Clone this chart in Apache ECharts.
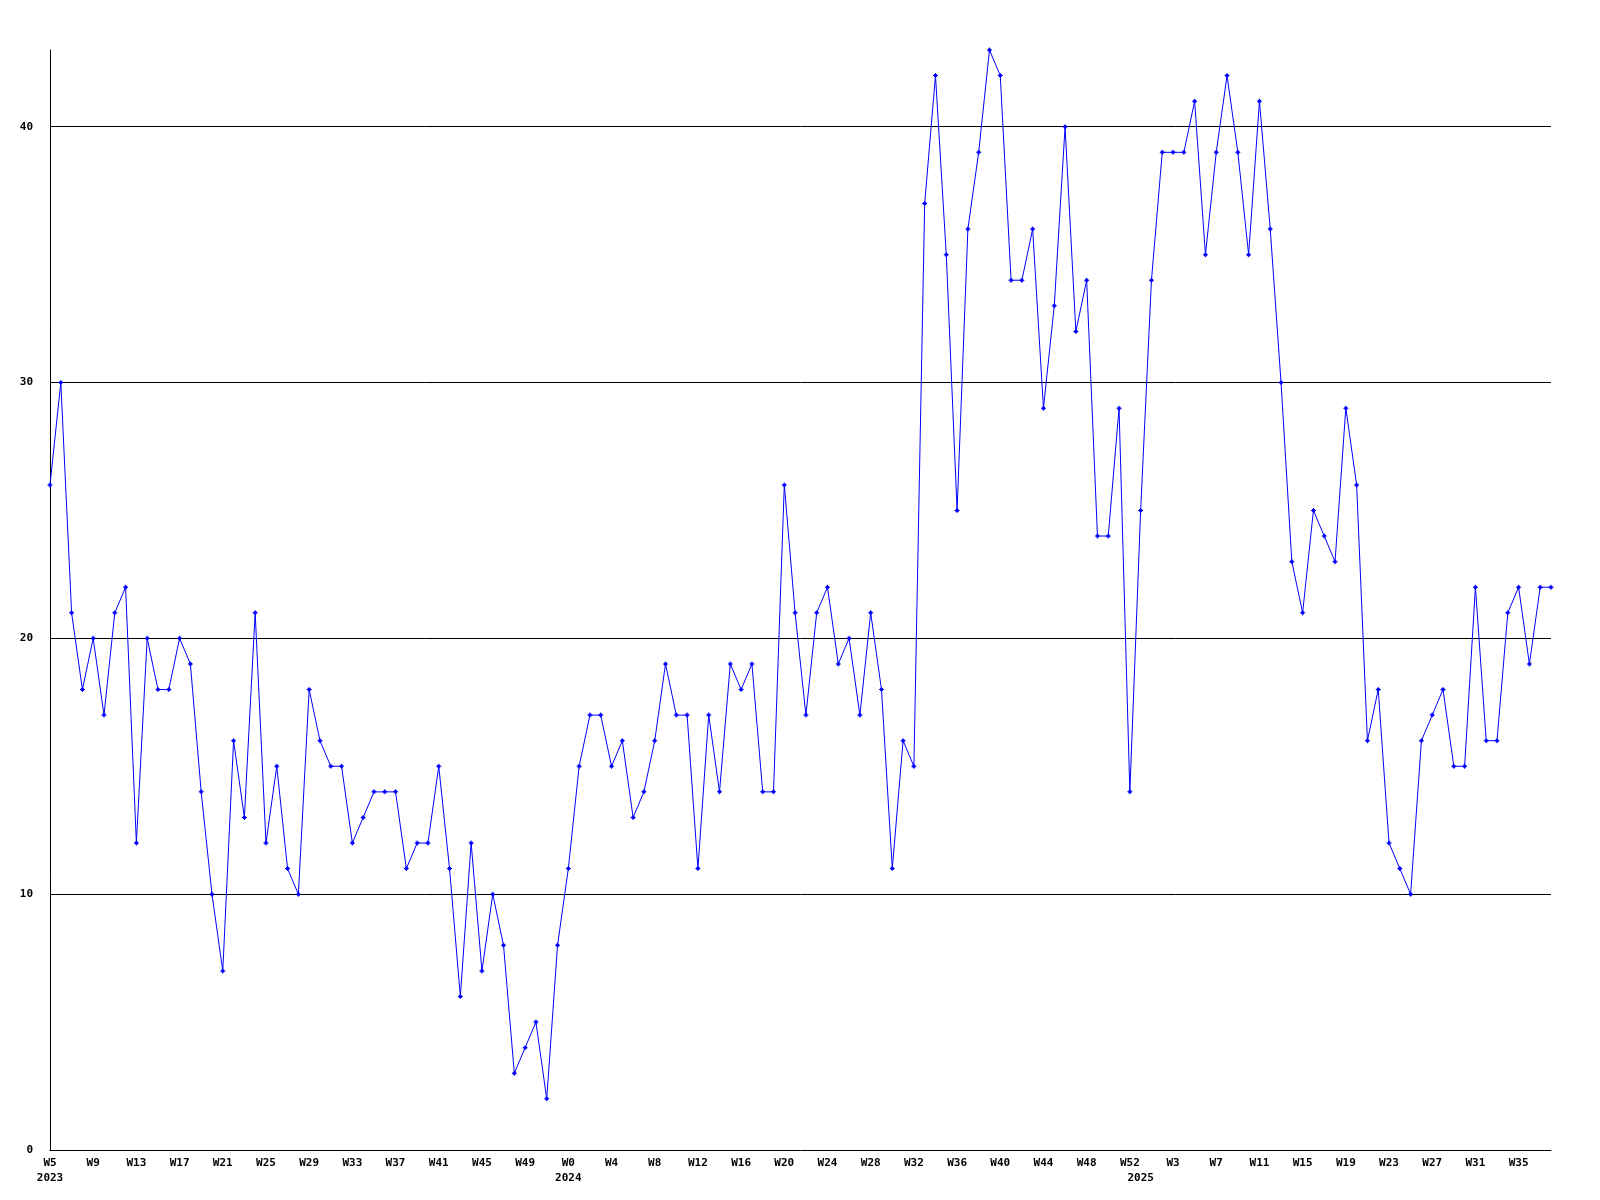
<!DOCTYPE html>
<html>
<head>
<meta charset="utf-8">
<script src="https://cdn.jsdelivr.net/npm/echarts@6/dist/echarts.min.js"></script>
<style>
  html, body { margin: 0; padding: 0; background: #fff; }
  #chart { width: 1600px; height: 1200px; }
</style>
</head>
<body>
<div id="chart"></div>
<script>
// week categories, "year-week"
const weeks = [
  '2023-W5', '2023-W6', '2023-W7', '2023-W8', '2023-W9', '2023-W10', '2023-W11', '2023-W12',
  '2023-W13', '2023-W14', '2023-W15', '2023-W16', '2023-W17', '2023-W18', '2023-W19', '2023-W20',
  '2023-W21', '2023-W22', '2023-W23', '2023-W24', '2023-W25', '2023-W26', '2023-W27', '2023-W28',
  '2023-W29', '2023-W30', '2023-W31', '2023-W32', '2023-W33', '2023-W34', '2023-W35', '2023-W36',
  '2023-W37', '2023-W38', '2023-W39', '2023-W40', '2023-W41', '2023-W42', '2023-W43', '2023-W44',
  '2023-W45', '2023-W46', '2023-W47', '2023-W48', '2023-W49', '2023-W50', '2023-W51', '2023-W52',
  '2024-W0', '2024-W1', '2024-W2', '2024-W3', '2024-W4', '2024-W5', '2024-W6', '2024-W7',
  '2024-W8', '2024-W9', '2024-W10', '2024-W11', '2024-W12', '2024-W13', '2024-W14', '2024-W15',
  '2024-W16', '2024-W17', '2024-W18', '2024-W19', '2024-W20', '2024-W21', '2024-W22', '2024-W23',
  '2024-W24', '2024-W25', '2024-W26', '2024-W27', '2024-W28', '2024-W29', '2024-W30', '2024-W31',
  '2024-W32', '2024-W33', '2024-W34', '2024-W35', '2024-W36', '2024-W37', '2024-W38', '2024-W39',
  '2024-W40', '2024-W41', '2024-W42', '2024-W43', '2024-W44', '2024-W45', '2024-W46', '2024-W47',
  '2024-W48', '2024-W49', '2024-W50', '2024-W51', '2024-W52',
  '2025-W0', '2025-W1', '2025-W2', '2025-W3', '2025-W4', '2025-W5', '2025-W6', '2025-W7',
  '2025-W8', '2025-W9', '2025-W10', '2025-W11', '2025-W12', '2025-W13', '2025-W14', '2025-W15',
  '2025-W16', '2025-W17', '2025-W18', '2025-W19', '2025-W20', '2025-W21', '2025-W22', '2025-W23',
  '2025-W24', '2025-W25', '2025-W26', '2025-W27', '2025-W28', '2025-W29', '2025-W30', '2025-W31',
  '2025-W32', '2025-W33', '2025-W34', '2025-W35', '2025-W36', '2025-W37', '2025-W38'
];

const counts = [
  26, 30, 21, 18, 20, 17, 21, 22, 12, 20,
  18, 18, 20, 19, 14, 10, 7, 16, 13, 21,
  12, 15, 11, 10, 18, 16, 15, 15, 12, 13,
  14, 14, 14, 11, 12, 12, 15, 11, 6, 12,
  7, 10, 8, 3, 4, 5, 2, 8, 11, 15,
  17, 17, 15, 16, 13, 14, 16, 19, 17, 17,
  11, 17, 14, 19, 18, 19, 14, 14, 26, 21,
  17, 21, 22, 19, 20, 17, 21, 18, 11, 16,
  15, 37, 42, 35, 25, 36, 39, 43, 42, 34,
  34, 36, 29, 33, 40, 32, 34, 24, 24, 29,
  14, 25, 34, 39, 39, 39, 41, 35, 39, 42,
  39, 35, 41, 36, 30, 23, 21, 25, 24, 23,
  29, 26, 16, 18, 12, 11, 10, 16, 17, 18,
  15, 15, 22, 16, 16, 21, 22, 19, 22, 22
];

const yTicks = [0, 10, 20, 30, 40];
const yMax = 43;

const labelFont = {
  fontFamily: 'DejaVu Sans Mono',
  fontWeight: 'bold',
  fontSize: 11,
  color: '#000'
};

function isYearStart(idx) {
  return idx === 0 || weeks[idx].split('-')[0] !== weeks[idx - 1].split('-')[0];
}

// small blocky plus marker
const marker = 'path://M2,0L3,0L3,1L4,1L4,2L5,2L5,3L4,3L4,4L3,4L3,5L2,5L2,4L1,4L1,3L0,3L0,2L1,2L1,1L2,1Z';

const chart = echarts.init(document.getElementById('chart'));
chart.setOption({
  animation: false,
  backgroundColor: '#fff',
  grid: { left: 50, right: 49, top: 50, bottom: 50 },
  xAxis: {
    type: 'category',
    data: weeks,
    boundaryGap: false,
    axisLine: { lineStyle: { color: '#000', width: 1 } },
    axisTick: { show: false },
    splitLine: { show: false },
    axisLabel: Object.assign({}, labelFont, {
      margin: 6,
      lineHeight: 15,
      interval: (idx) => idx % 4 === 0 || isYearStart(idx),
      formatter: (val, idx) => {
        const [yr, wk] = val.split('-');
        const top = idx % 4 === 0 ? wk : ' ';
        const bottom = isYearStart(idx) ? yr : ' ';
        return top + '\n' + bottom;
      }
    })
  },
  yAxis: {
    type: 'value',
    min: 0,
    max: yMax,
    interval: 10,
    axisLine: { show: true, lineStyle: { color: '#000', width: 1 } },
    axisTick: { show: false },
    splitLine: { show: true, showMinLine: false, showMaxLine: false, lineStyle: { color: '#000', width: 1 } },
    axisLabel: Object.assign({}, labelFont, {
      margin: 17,
      showMaxLabel: false,
      formatter: (v) => (yTicks.includes(v) ? String(v) : '')
    })
  },
  series: [
    {
      type: 'line',
      data: counts,
      symbol: marker,
      symbolSize: 5,
      showAllSymbol: true,
      lineStyle: { color: '#0000ff', width: 1 },
      itemStyle: { color: '#0000ff' }
    }
  ]
});
</script>
</body>
</html>
